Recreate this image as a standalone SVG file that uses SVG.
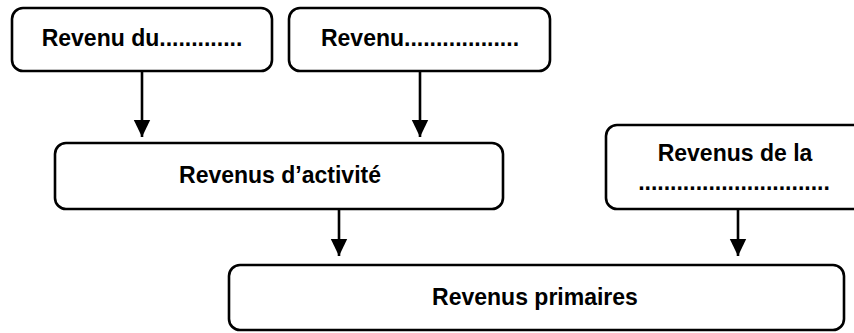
<svg xmlns="http://www.w3.org/2000/svg" width="854" height="333" viewBox="0 0 854 333">
<style>
.box{fill:#fff;stroke:#000;stroke-width:2.6}
.t{font-family:"Liberation Sans",Arial,sans-serif;font-weight:bold;font-size:23px;fill:#000;text-anchor:middle}
.c{stroke:#000;stroke-width:2.6;fill:none}
</style>
<defs>
<marker id="ah" markerUnits="userSpaceOnUse" markerWidth="18" markerHeight="18" viewBox="0 0 18 18" refX="17" refY="9" orient="auto">
<path d="M0,0.8 L17,9 L0,17.2 Z" fill="#000"/>
</marker>
</defs>
<rect width="854" height="333" fill="#fff"/>
<g id="n1"><rect class="box" x="12" y="8" width="260" height="63" rx="11"/><text class="t" x="142" y="46">Revenu du.............</text></g>
<g id="n2"><rect class="box" x="289" y="8" width="261" height="63" rx="11"/><text class="t" x="420" y="46">Revenu..................</text></g>
<g id="n3"><rect class="box" x="55" y="143" width="448" height="66" rx="11"/><text class="t" x="280" y="183">Revenus d’activité</text></g>
<g id="n4"><rect class="box" x="606" y="125" width="262" height="84" rx="11"/><text class="t" x="735" y="161">Revenus de la</text><text class="t" x="734" y="190">..............................</text></g>
<g id="n5"><rect class="box" x="229" y="265" width="615" height="65" rx="11"/><text class="t" x="535" y="305">Revenus primaires</text></g>
<g id="connectors">
<line class="c" x1="142" y1="72" x2="142" y2="137" marker-end="url(#ah)"/>
<line class="c" x1="420" y1="72" x2="420" y2="137" marker-end="url(#ah)"/>
<line class="c" x1="339" y1="209" x2="339" y2="256" marker-end="url(#ah)"/>
<line class="c" x1="738" y1="209" x2="738" y2="256" marker-end="url(#ah)"/>
</g>
</svg>
